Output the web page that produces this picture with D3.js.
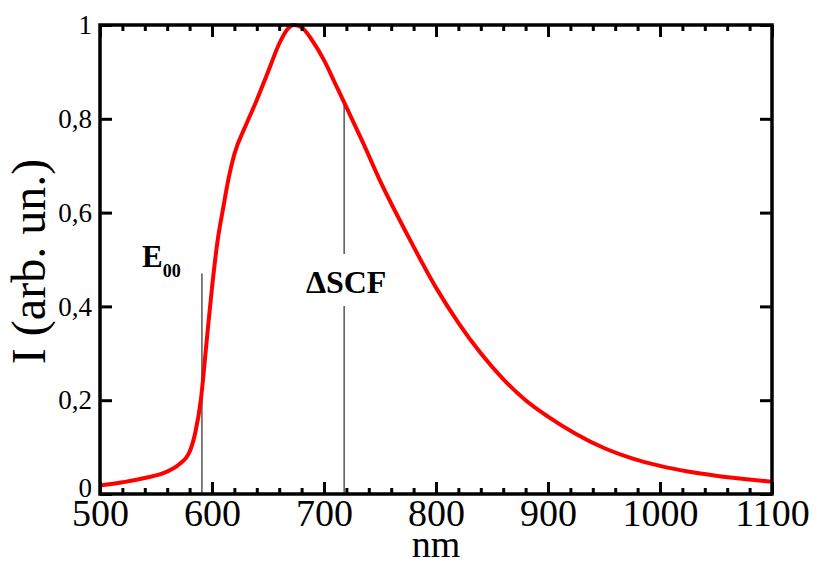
<!DOCTYPE html>
<html><head><meta charset="utf-8">
<script src="https://cdn.jsdelivr.net/npm/d3@7"></script>
<style>body{margin:0;background:#fff}svg{display:block}</style>
</head><body>
<script>
const wavelength = [500,520,540,560,570,580,585,590,595,600,605,610,615,620,630,640,650,660,667,673,680,690,700,710,720,735,750,775,800,820,840,860,880,900,925,950,975,1000,1025,1050,1075,1100];
const intensity  = [0.018,0.025,0.034,0.048,0.062,0.09,0.13,0.20,0.32,0.44,0.54,0.61,0.675,0.725,0.785,0.84,0.90,0.96,0.99,1.0,0.995,0.965,0.925,0.875,0.825,0.748,0.668,0.55,0.44,0.365,0.30,0.245,0.20,0.165,0.128,0.098,0.076,0.06,0.048,0.039,0.032,0.026];
const xTicks = [500,600,700,800,900,1000,1100];
const yTicks = [0,0.2,0.4,0.6,0.8,1];
const yTickLabels = ["0","0,2","0,4","0,6","0,8","1"];
const markerNames = ["E00","ΔSCF"];
const markerX = [591,718];
const markerTop = [0.47,0.84];

const W=819,H=561;
const L=100,R=772,T=25,B=494;
const svg=d3.select("body").append("svg").attr("width",W).attr("height",H);
const x=d3.scaleLinear().domain([500,1100]).range([L,R]);
const y=d3.scaleLinear().domain([0,1]).range([B,T]);
const serif="'Liberation Serif','Times New Roman',serif";

// marker lines
const mk = markerX.map((v,i)=>({x:v,top:markerTop[i],name:markerNames[i]}));
svg.selectAll("line.mk").data(mk).enter().append("line")
  .attr("x1",d=>x(d.x)).attr("x2",d=>x(d.x)).attr("y1",d=>y(d.top)).attr("y2",B)
  .attr("stroke","#555").attr("stroke-width",1.5);

// curve
const pts = wavelength.map((w,i)=>[w,intensity[i]]);
svg.append("path").datum(pts)
  .attr("d",d3.line().x(d=>x(d[0])).y(d=>y(d[1])).curve(d3.curveMonotoneX))
  .attr("fill","none").attr("stroke","#ff0000").attr("stroke-width",4);

// labels
const ds = mk[1];
svg.append("rect").attr("x",x(ds.x)-42).attr("y",254).attr("width",84).attr("height",52).attr("fill","#fff");
svg.append("text").attr("x",x(ds.x)+2).attr("y",293).attr("text-anchor","middle")
  .attr("font-family",serif).attr("font-weight","bold").attr("font-size",32).text("ΔSCF");
const e = svg.append("text").attr("x",142).attr("y",267).attr("font-family",serif).attr("font-weight","bold").attr("font-size",31);
e.append("tspan").text("E");
e.append("tspan").attr("font-size",18).attr("dy",10).text("00");

// axes
const minorX = d3.range(500,1101,20).filter(v=>v%100!==0);
const bottom=d3.axisBottom(x).tickValues(xTicks).tickSize(-12).tickFormat(d3.format("d")).tickPadding(5);
const gB=svg.append("g").attr("transform",`translate(0,${B})`).call(bottom);
gB.selectAll("text").attr("font-family",serif).attr("font-size",38).attr("fill","#000");
const gBm=svg.append("g").attr("transform",`translate(0,${B})`).call(d3.axisBottom(x).tickValues(minorX).tickSize(-6).tickFormat(""));
const gT=svg.append("g").attr("transform",`translate(0,${T})`).call(d3.axisTop(x).tickValues(xTicks).tickSize(-12).tickFormat(""));
const gTm=svg.append("g").attr("transform",`translate(0,${T})`).call(d3.axisTop(x).tickValues(minorX).tickSize(-6).tickFormat(""));
const gL=svg.append("g").attr("transform",`translate(${L},0)`).call(d3.axisLeft(y).tickValues(yTicks).tickSize(-12).tickPadding(8).tickFormat((d,i)=>yTickLabels[i]));
gL.selectAll("text").attr("font-family",serif).attr("font-size",27).attr("fill","#000");
gL.selectAll(".tick").filter(d=>d===0).select("text").attr("dy","0.1em");
const gR=svg.append("g").attr("transform",`translate(${R},0)`).call(d3.axisRight(y).tickValues(yTicks).tickSize(-12).tickFormat(""));
[gB,gBm,gT,gTm,gL,gR].forEach(g=>{
  g.select(".domain").remove();
  g.selectAll(".tick line").attr("stroke","#000").attr("stroke-width",3);
});
svg.append("rect").attr("x",L).attr("y",T).attr("width",R-L).attr("height",B-T)
  .attr("fill","none").attr("stroke","#000").attr("stroke-width",3.5);

// titles
svg.append("text").attr("x",(L+R)/2).attr("y",557).attr("text-anchor","middle")
  .attr("font-family",serif).attr("font-size",38).text("nm");
svg.append("text").attr("transform",`translate(45,${(T+B)/2+2}) rotate(-90)`).attr("text-anchor","middle")
  .attr("font-family",serif).attr("font-size",48).text("I (arb. un.)");
</script>
</body></html>
